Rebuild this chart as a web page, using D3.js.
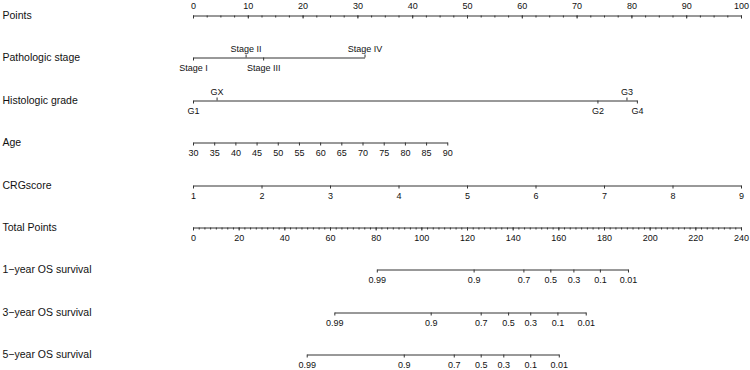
<!DOCTYPE html>
<html>
<head>
<meta charset="utf-8">
<script src="https://cdn.jsdelivr.net/npm/d3@7"></script>
<style>
  body { margin: 0; background: #fff; }
  svg text { font-family: "Liberation Sans", Arial, sans-serif; fill: #111; }
  .axis path, .axis line { stroke: #333; }
  .rowlab { font-size: 10.5px; }
  .axis text { font-size: 9px; }
</style>
</head>
<body>
<script>
// nomogram values
var rowNames = ["Points", "Pathologic stage", "Histologic grade", "Age", "CRGscore",
  "Total Points", "1\u2212year OS survival", "3\u2212year OS survival", "5\u2212year OS survival"];

var stageLabels = ["Stage I", "Stage II", "Stage III", "Stage IV"];
var stagePoints = [0, 9.6, 12.8, 31.3];
var stageAbove = [false, true, false, true];

var gradeLabels = ["G1", "GX", "G2", "G3", "G4"];
var gradePoints = [0, 4.3, 73.8, 79.1, 81.0];
var gradeAbove = [false, true, false, true, false];

var ageValues = [30, 90];
var agePoints = [0, 46.4];

var crgValues = [1, 9];
var crgPoints = [0, 100];

var survLabels = ["0.99", "0.9", "0.7", "0.5", "0.3", "0.1", "0.01"];
var surv1Total = [80.5, 122.9, 144.7, 156.5, 166.6, 178.2, 190.5];
var surv3Total = [61.9, 104.1, 126.0, 138.0, 147.7, 159.6, 172.0];
var surv5Total = [49.8, 92.3, 114.2, 126.0, 135.9, 147.7, 160.2];

var W = 750, H = 370;
var svg = d3.select("body").append("svg").attr("width", W).attr("height", H);

var x0 = 193, x1 = 741;
var xPts = d3.scaleLinear().domain([0, 100]).range([x0, x1]);
var xTot = d3.scaleLinear().domain([0, 240]).range([x0, x1]);

function rowY(i) { return Math.round(14.7 + 42.45 * i) + 0.5; }

svg.selectAll(".rowlab").data(rowNames).enter().append("text")
    .attr("class", "rowlab")
    .attr("x", 2.5)
    .attr("y", function(d, i) { return rowY(i); })
    .attr("dy", "0.35em")
    .text(function(d) { return d; });

function row(i) {
  return svg.append("g").attr("class", "axis").attr("transform", "translate(0," + rowY(i) + ")");
}
function styleAxis(g) {
  g.selectAll("text").attr("font-family", null).attr("font-size", null);
}

// Points
var gP = row(0);
gP.call(d3.axisTop(xPts).tickValues(d3.range(0, 100.1, 2.5)).tickSizeInner(-2).tickSizeOuter(0).tickFormat(""));
gP.append("g").call(d3.axisTop(xPts).tickValues(d3.range(0, 101, 10)).tickSizeInner(-3).tickSizeOuter(0).tickPadding(7))
  .select(".domain").remove();
styleAxis(gP);

// categorical rows: ticks toward their label
function catRow(i, labels, pts, above) {
  var lo = d3.min(pts), hi = d3.max(pts);
  var s = d3.scaleLinear().domain([lo, hi]).range([xPts(lo), xPts(hi)]);
  var g = row(i);
  var up = pts.filter(function(d, j) { return above[j]; });
  var dn = pts.filter(function(d, j) { return !above[j]; });
  var lab = function(d) { return labels[pts.indexOf(d)]; };
  g.append("g").call(d3.axisBottom(s).tickValues(dn).tickFormat(lab).tickSizeInner(3).tickSizeOuter(0).tickPadding(4));
  g.append("g").call(d3.axisTop(s).tickValues(up).tickFormat(lab).tickSizeInner(3).tickSizeOuter(0).tickPadding(3))
    .select(".domain").remove();
  styleAxis(g);
}
catRow(1, stageLabels, stagePoints, stageAbove);
catRow(2, gradeLabels, gradePoints, gradeAbove);

// Age
var sAge = d3.scaleLinear().domain(ageValues).range(agePoints.map(xPts));
var gA = row(3);
gA.call(d3.axisBottom(sAge).tickValues(d3.range(30, 91, 5)).tickSizeInner(3).tickSizeOuter(0).tickPadding(4));
styleAxis(gA);

// CRGscore
var sCrg = d3.scaleLinear().domain(crgValues).range(crgPoints.map(xPts));
var gC = row(4);
gC.call(d3.axisBottom(sCrg).tickValues(d3.range(1, 10)).tickSizeInner(3).tickSizeOuter(0).tickPadding(4));
styleAxis(gC);

// Total Points
var gT = row(5);
gT.call(d3.axisBottom(xTot).tickValues(d3.range(0, 240.1, 2.5)).tickSizeInner(2).tickSizeOuter(0).tickFormat(""));
gT.append("g").call(d3.axisBottom(xTot).tickValues(d3.range(0, 241, 20)).tickSizeInner(3).tickSizeOuter(0).tickPadding(4))
  .select(".domain").remove();
styleAxis(gT);

// survival rows
[surv1Total, surv3Total, surv5Total].forEach(function(tot, k) {
  var ext = d3.extent(tot);
  var s = d3.scaleLinear().domain(ext).range(ext.map(xTot));
  var g = row(6 + k);
  g.call(d3.axisBottom(s).tickValues(tot).tickFormat(function(d, j) { return survLabels[j]; })
    .tickSizeInner(3).tickSizeOuter(0).tickPadding(4));
  styleAxis(g);
});
</script>
</body>
</html>
